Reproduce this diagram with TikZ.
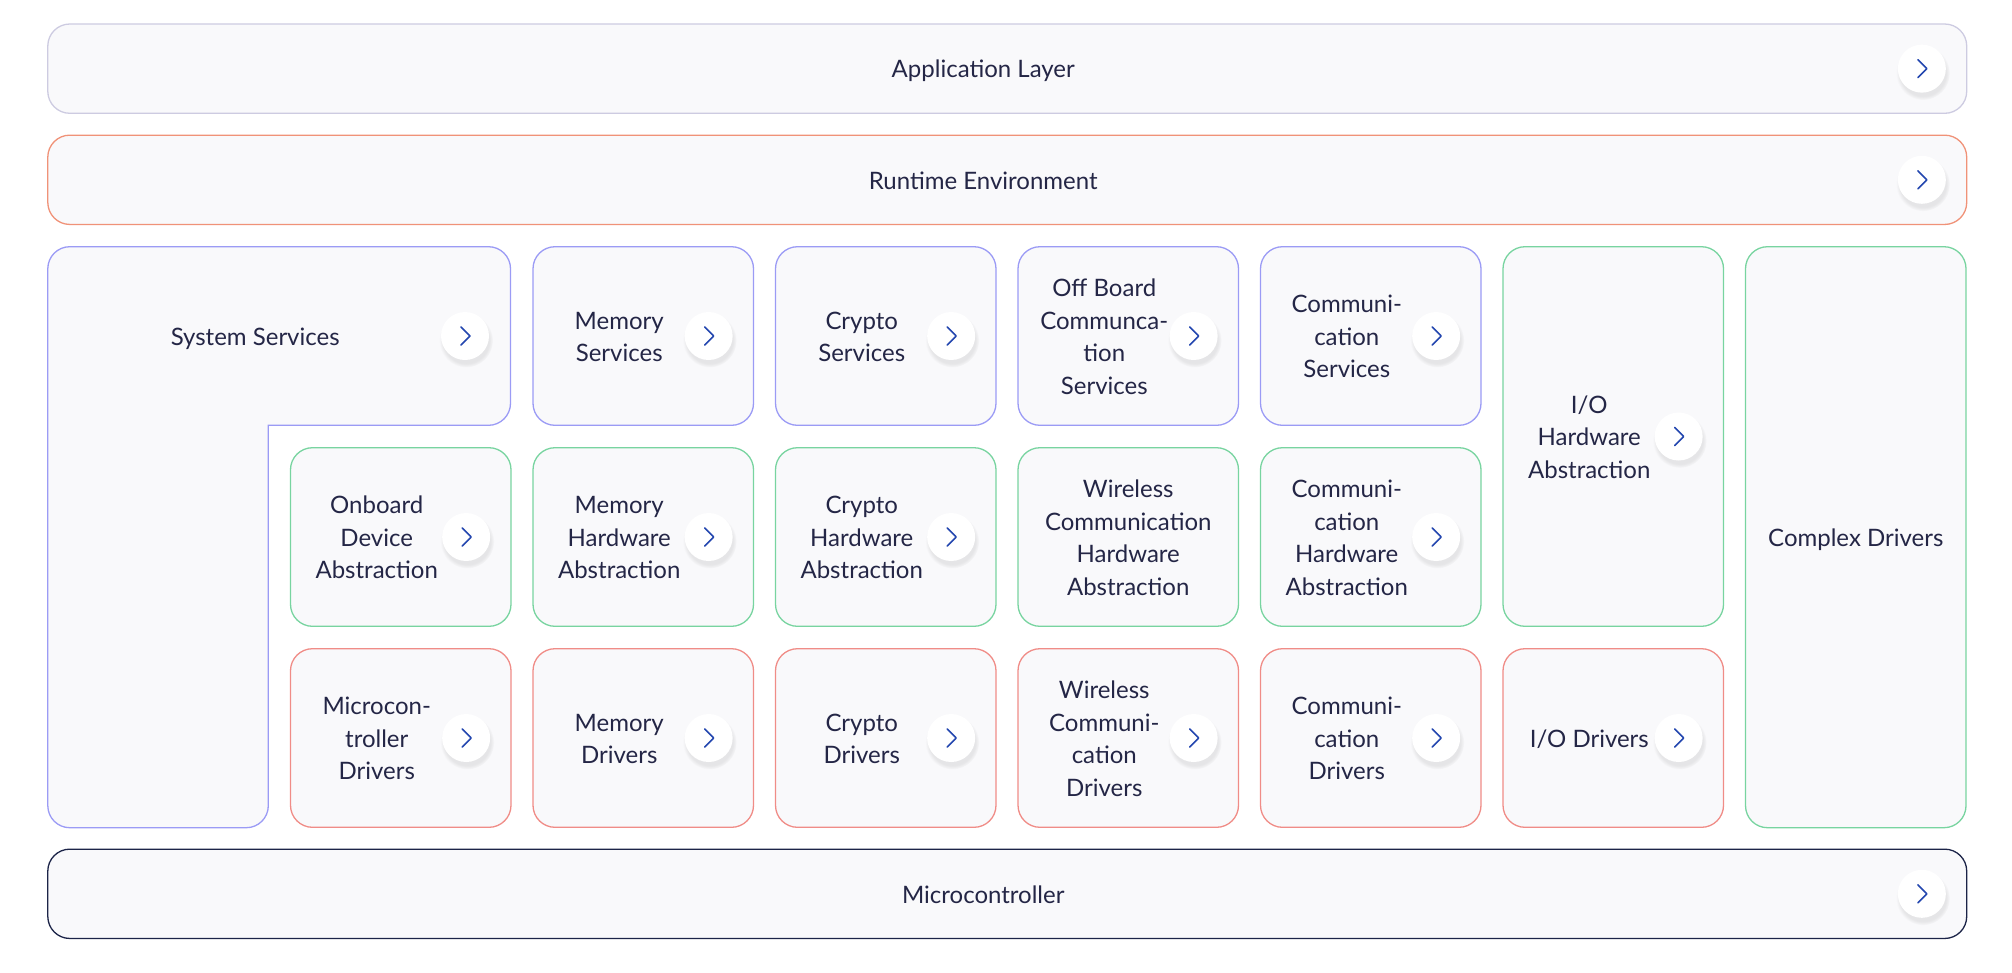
\documentclass[tikz,border=0pt]{standalone}
\usepackage{fontspec}
\setmainfont{Lato}
\usetikzlibrary{calc,shadows,fadings}
\definecolor{appc}{RGB}{205,203,225}
\definecolor{rtec}{RGB}{240,146,120}
\definecolor{svcc}{RGB}{155,155,245}
\definecolor{hwac}{RGB}{120,212,160}
\definecolor{drvc}{RGB}{240,140,135}
\definecolor{mcuc}{RGB}{28,36,72}
\definecolor{boxfill}{RGB}{249,249,251}
\definecolor{txtc}{RGB}{36,38,70}
\definecolor{chevc}{RGB}{35,70,175}
\newcommand\lstrut{\rule[-7pt]{0pt}{32.5pt}}
\tikzset{
  box/.style={draw=#1, fill=boxfill, rounded corners=22pt, line width=1.3pt,
    minimum width=220.5pt, minimum height=178.6pt, inner sep=0pt},
  bar/.style={box=#1, minimum width=1918.9pt, minimum height=89.3pt},
  lbl/.style={text=txtc, align=center, font=\fontsize{24}{32.5}\selectfont, inner sep=0pt},
  chevbtn/.style={circle, fill=white, minimum size=48pt, inner sep=0pt,
    circular drop shadow={shadow xshift=1pt, shadow yshift=-4pt, shadow scale=1.12, opacity=0.16},
    path picture={\draw[chevc, line width=1.6pt, line cap=round, line join=round]
      ($(path picture bounding box.center)+(-4,-9)$) -- ++(9,9) -- ++(-9,9);}},
}
\newcommand\mkcell[6]{%
  \node[box=#2, minimum height=#5pt] (#1) at (#3,#4) {};
  \node[lbl] (#1-t) at ($(#1.center)+(-24,0)$) {\lstrut #6\lstrut};
  \node[chevbtn] (#1-c) at ($(#1.east)+(-45.5,0)$) {};
}
\newcommand\mkplain[6]{%
  \node[box=#2, minimum height=#5pt] (#1) at (#3,#4) {};
  \node[lbl] (#1-t) at (#1.center) {\lstrut #6\lstrut};
}
\newcommand\mkbar[4]{%
  \node[bar=#2] (#1) at (1007.25,#3) {};
  \node[lbl] (#1-t) at ($(#1.center)+(-24,0)$) {\lstrut #4\lstrut};
  \node[chevbtn] (#1-c) at ($(#1.east)+(-45.5,0)$) {};
}
\begin{document}
\begin{tikzpicture}[x=1pt,y=-1pt]
\useasboundingbox (0,0) rectangle (2012,972);
% bars
\mkbar{app}{appc}{68.65}{Application Layer}
\mkbar{rte}{rtec}{179.8}{Runtime Environment}
\mkbar{mcu}{mcuc}{893.8}{Microcontroller}
% system services L-shape
\filldraw[draw=svcc, fill=boxfill, line width=1.3pt, line cap=rect, rounded corners=22pt]
  (268.3,425.3) -- (268.3,827.7) -- (47.8,827.7) -- (47.8,246.7) -- (510.5,246.7)
  -- (510.5,425.3) -- (268.3,425.3);
\node[lbl] (sys-t) at (255.2,336) {\lstrut System Services\lstrut};
\node[chevbtn] (sys-c) at (465,336) {};
% row 1
\mkcell{memsvc}{svcc}{643.25}{336}{178.6}{Memory\\Services}
\mkcell{crysvc}{svcc}{885.75}{336}{178.6}{Crypto\\Services}
\mkcell{offsvc}{svcc}{1128.25}{336}{178.6}{Off Board\\Communca-\\tion\\Services}
\mkcell{comsvc}{svcc}{1370.75}{336}{178.6}{Communi-\\cation\\Services}
\mkcell{iohwa}{hwac}{1613.25}{436.5}{379.6}{I/O\\Hardware\\Abstraction}
\mkplain{cdrv}{hwac}{1855.75}{537.2}{581}{Complex Drivers}
% row 2
\mkcell{onb}{hwac}{400.75}{537}{178.6}{Onboard\\Device\\Abstraction}
\mkcell{memhwa}{hwac}{643.25}{537}{178.6}{Memory\\Hardware\\Abstraction}
\mkcell{cryhwa}{hwac}{885.75}{537}{178.6}{Crypto\\Hardware\\Abstraction}
\mkplain{wlhwa}{hwac}{1128.25}{537}{178.6}{Wireless\\Communication\\Hardware\\Abstraction}
\mkcell{comhwa}{hwac}{1370.75}{537}{178.6}{Communi-\\cation\\Hardware\\Abstraction}
% row 3
\mkcell{mcudrv}{drvc}{400.75}{738}{178.6}{Microcon-\\troller\\Drivers}
\mkcell{memdrv}{drvc}{643.25}{738}{178.6}{Memory\\Drivers}
\mkcell{crydrv}{drvc}{885.75}{738}{178.6}{Crypto\\Drivers}
\mkcell{wldrv}{drvc}{1128.25}{738}{178.6}{Wireless\\Communi-\\cation\\Drivers}
\mkcell{comdrv}{drvc}{1370.75}{738}{178.6}{Communi-\\cation\\Drivers}
\mkcell{iodrv}{drvc}{1613.25}{738}{178.6}{I/O Drivers}
\end{tikzpicture}
\end{document}
